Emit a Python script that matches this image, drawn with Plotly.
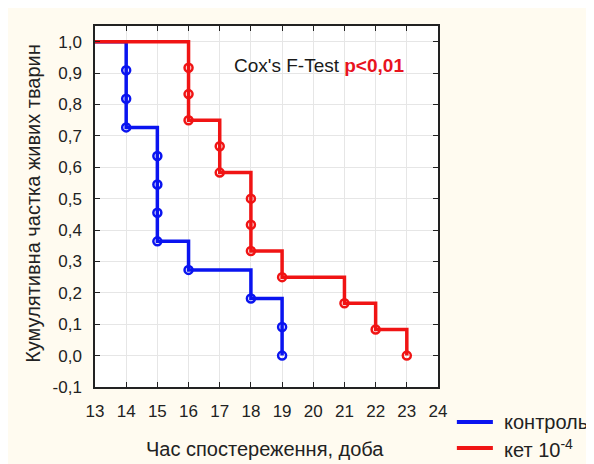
import plotly.graph_objects as go

# Kaplan-Meier data
ctrl_t = [13, 14, 14, 14, 15, 15, 15, 15, 16, 18, 19, 19]
ctrl_s = [1.0, 0.909, 0.818, 0.727, 0.636, 0.545, 0.455, 0.364, 0.273, 0.182, 0.091, 0.0]
ket_t = [13, 16, 16, 16, 17, 17, 18, 18, 18, 19, 21, 22, 23]
ket_s = [1.0, 0.917, 0.833, 0.75, 0.667, 0.583, 0.5, 0.417, 0.333, 0.25, 0.167, 0.083, 0.0]

x_ticks = list(range(13, 25))
y_vals = [1.0, 0.9, 0.8, 0.7, 0.6, 0.5, 0.4, 0.3, 0.2, 0.1, 0.0, -0.1]
y_text = ["1,0", "0,9", "0,8", "0,7", "0,6", "0,5", "0,4", "0,3", "0,2", "0,1", "0,0", "-0,1"]
legend_names = ["контроль", "кет 10<sup>-4</sup>"]

BLUE = "#0a14f0"
RED = "#f01414"
FONT = "Liberation Sans, Arial, sans-serif"
TXT = "#222"

fig = go.Figure()

for t, s, c in [(ctrl_t, ctrl_s, BLUE), (ket_t, ket_s, RED)]:
    fig.add_trace(go.Scatter(x=t, y=s, mode="lines", line=dict(color=c, width=3.5, shape="hv"),
                             showlegend=False, hoverinfo="skip"))
    fig.add_trace(go.Scatter(x=t[1:], y=s[1:], mode="markers",
                             marker=dict(symbol="circle-open", size=8, color=c, line=dict(width=2.5, color=c)),
                             showlegend=False))

# manual legend (outside plot, bottom right)
for i, (name, c) in enumerate(zip(legend_names, [BLUE, RED])):
    yy = -0.097 - i * 0.072
    fig.add_shape(type="line", xref="paper", yref="paper", x0=1.055, x1=1.16, y0=yy, y1=yy,
                  line=dict(color=c, width=4))
    fig.add_annotation(xref="paper", yref="paper", x=1.187, y=yy, xanchor="left", yanchor="middle",
                       showarrow=False, text=name, font=dict(family=FONT, size=20, color=TXT))

# axis titles
fig.add_annotation(xref="paper", yref="paper", x=0.496, y=-0.172, xanchor="center", yanchor="middle",
                   showarrow=False, text="Час спостереження, доба", font=dict(family=FONT, size=20, color=TXT))
fig.add_annotation(xref="paper", yref="paper", x=-0.181, y=0.51, xanchor="center", yanchor="middle",
                   showarrow=False, textangle=-90, text="Кумулятивна частка живих тварин",
                   font=dict(family=FONT, size=20, color=TXT))

fig.add_annotation(x=17.39, y=0.923, xref="x", yref="y", xanchor="left", yanchor="middle", showarrow=False,
                   text="Cox's F-Test <b><span style='color:#e8141e'>p&lt;0,01</span></b>",
                   font=dict(family=FONT, size=19, color="#1a1a1a"))

axis_common = dict(showline=True, linecolor=TXT, linewidth=1.5, mirror="ticks", ticks="inside",
                   ticklen=5, tickwidth=1, tickcolor=TXT, showgrid=True, gridcolor="#e6e6e6",
                   gridwidth=1, zeroline=False, tickfont=dict(family=FONT, size=17, color=TXT))

fig.update_xaxes(range=[13, 24], tickvals=x_ticks, ticktext=[str(v) for v in x_ticks],
                 ticklabelstandoff=8, **axis_common)
fig.update_yaxes(range=[-0.1, 1.05], tickvals=y_vals, ticktext=y_text,
                 ticklabelstandoff=8, **axis_common)

# page body has an 8px default margin; compensate so the plot frame lands where the reference has it
fig.update_layout(width=594, height=464, margin=dict(l=87, r=164, t=18, b=85, autoexpand=False),
                  paper_bgcolor="#fffbf0", plot_bgcolor="white", showlegend=False)

fig.write_html("out.html")
